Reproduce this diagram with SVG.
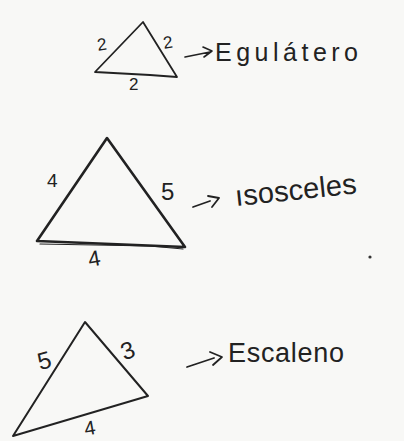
<svg xmlns="http://www.w3.org/2000/svg" width="404" height="441" viewBox="0 0 404 441">
<style>
.ln{fill:none;stroke:#222;stroke-linecap:round;stroke-linejoin:round}
.t{font-family:"Liberation Sans","DejaVu Sans",sans-serif;fill:#222}
</style>
<rect width="404" height="441" fill="#f8f8f6"/>
<g id="equilatero">
<path class="ln" stroke-width="1.8" d="M95,72 L143,22 L177,77 L150,75 Z"/>
<text class="t" x="97" y="50" font-size="17" transform="rotate(-8 102 44)">2</text>
<text class="t" x="163" y="48" font-size="17" transform="rotate(-8 168 42)">2</text>
<text class="t" x="129" y="90" font-size="17">2</text>
<path class="ln" stroke-width="1.6" d="M185,57 L210,52 M203,47 L212,51 L204,57"/>
<text class="t" x="215" y="61" font-size="25" textLength="143" lengthAdjust="spacing">Egulátero</text>
</g>
<g id="isosceles">
<path class="ln" stroke="#3b2b30" stroke-width="2.6" d="M37,241 L107,138 L185,247 Z"/>
<path class="ln" stroke="#5a4448" stroke-width="1.2" d="M40,244 L150,246 L183,249"/>
<text class="t" x="47" y="187" font-size="19">4</text>
<text class="t" x="161" y="200" font-size="24">5</text>
<text class="t" x="88" y="265" font-size="22" transform="rotate(-10 100 257)">4</text>
<path class="ln" stroke-width="1.8" d="M193,207 L210,201 M208,196 L219,198 L212,207"/>
<text class="t" x="236" y="206" font-size="29" textLength="122" lengthAdjust="spacing" transform="rotate(-6 236 206)">ısosceles</text>
<circle cx="370" cy="257" r="1.6" fill="#333"/>
</g>
<g id="escaleno">
<path class="ln" stroke-width="2" d="M13,436 L85,322 L148,396 Z"/>
<text class="t" x="37" y="368" font-size="24" transform="rotate(-15 47 358)">5</text>
<text class="t" x="120" y="357" font-size="24" transform="rotate(-20 132 347)">3</text>
<text class="t" x="84" y="434" font-size="20" transform="rotate(-10 95 427)">4</text>
<path class="ln" stroke-width="1.8" d="M187,367 L214,358 M210,352 L222,357 L213,365"/>
<text class="t" x="228" y="362" font-size="27" textLength="116" lengthAdjust="spacing">Escaleno</text>
</g>
</svg>
